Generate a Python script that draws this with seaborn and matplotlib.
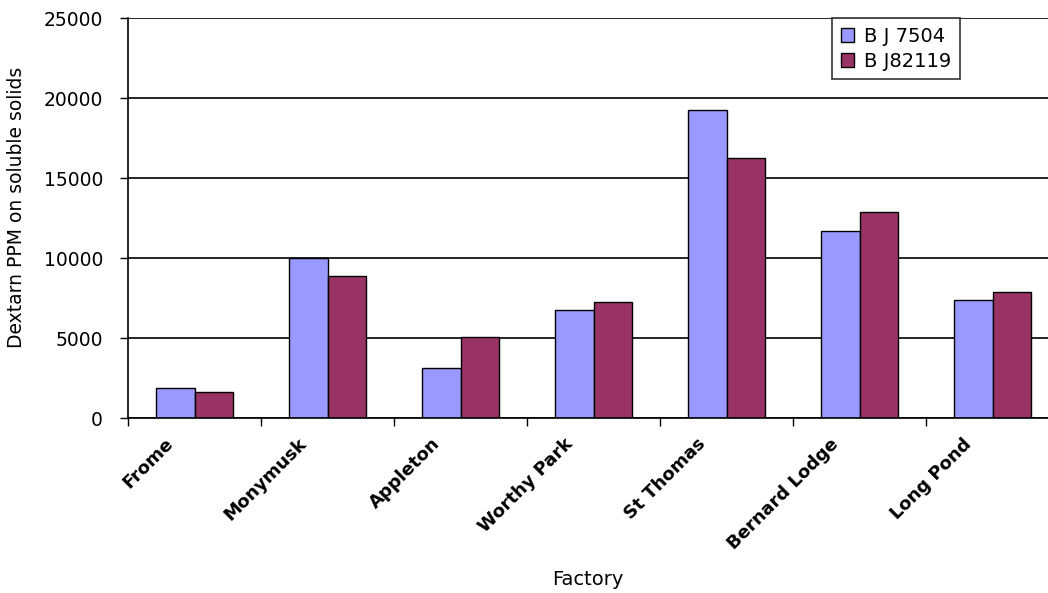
import matplotlib
matplotlib.use("Agg")
import matplotlib.pyplot as plt
import matplotlib.transforms as mtransforms
import pandas as pd
import seaborn as sns

# data
factories = ["Frome", "Monymusk", "Appleton", "Worthy Park", "St Thomas", "Bernard Lodge", "Long Pond"]
bj7504 = [1850, 10000, 3100, 6750, 19250, 11700, 7350]
bj82119 = [1600, 8850, 5080, 7250, 16230, 12850, 7870]
series_names = ["B J 7504", "B J82119"]
y_ticks = [0, 5000, 10000, 15000, 20000, 25000]

sns.set_style("white")
plt.rcParams['font.family'] = ['DejaVu Sans']
plt.rcParams['text.color'] = 'black'
plt.rcParams['axes.labelcolor'] = 'black'

df = pd.DataFrame({
    "Factory": factories * 2,
    "ppm": bj7504 + bj82119,
    "Variety": [series_names[0]] * len(factories) + [series_names[1]] * len(factories),
})

fig = plt.figure(figsize=(10.48, 5.93), dpi=100)
ax = fig.add_axes([128 / 1048, 175 / 593, 931 / 1048, 400 / 593])

sns.barplot(data=df, x="Factory", y="ppm", hue="Variety", order=factories,
            hue_order=series_names, palette=["#9999FF", "#993366"],
            width=0.58, edgecolor="black", linewidth=1.0, saturation=1, ax=ax)

ax.set_xlim(-0.5, len(factories) - 0.5)
ax.set_ylim(0, 25000)
ax.set_yticks(y_ticks)
ax.set_yticklabels([str(v) for v in y_ticks], fontsize=13.5, color="black")
ax.yaxis.grid(True, color="black", linewidth=1.2)
ax.set_axisbelow(True)
ax.tick_params(axis="y", length=6, width=1, color="black", direction="out", pad=12, left=True)

# category boundary ticks like excel, labels at the centres
ax.set_xticks([i - 0.5 for i in range(len(factories) + 1)], minor=True)
ax.tick_params(axis="x", which="minor", length=6, width=1, color="black", direction="out", bottom=True)
ax.tick_params(axis="x", which="major", length=0, pad=12)
ax.set_xticks(range(len(factories)))
ax.set_xticklabels(factories, rotation=45, ha="right", va="top", rotation_mode="anchor",
                   fontsize=13, fontweight="bold", color="black")
shift = mtransforms.ScaledTranslation(-30 / 100, 0, fig.dpi_scale_trans)
for lab in ax.get_xticklabels():
    lab.set_transform(lab.get_transform() + shift)

for side in ["top", "right"]:
    ax.spines[side].set_visible(False)
for side in ["left", "bottom"]:
    ax.spines[side].set_color("black")
    ax.spines[side].set_linewidth(1.2)

ax.set_xlabel("Factory", fontsize=14)
ax.xaxis.set_label_coords(588 / 1048, 23 / 593, transform=fig.transFigure)
ax.set_ylabel("Dextarn PPM on soluble solids", fontsize=13.5)
ax.yaxis.set_label_coords(26 / 1048, 1 - 207 / 593, transform=fig.transFigure)

leg = ax.legend(loc="upper left", frameon=True, fancybox=False, edgecolor="black", fontsize=14,
                handlelength=0.7, handleheight=0.7, handletextpad=0.5, borderpad=0.45,
                labelspacing=0.3, borderaxespad=0)
leg.get_frame().set_linewidth(1.2)
leg.set_bbox_to_anchor((832 / 1048, 1 - 18 / 593), transform=fig.transFigure)

fig.savefig("out.png", dpi=100)
